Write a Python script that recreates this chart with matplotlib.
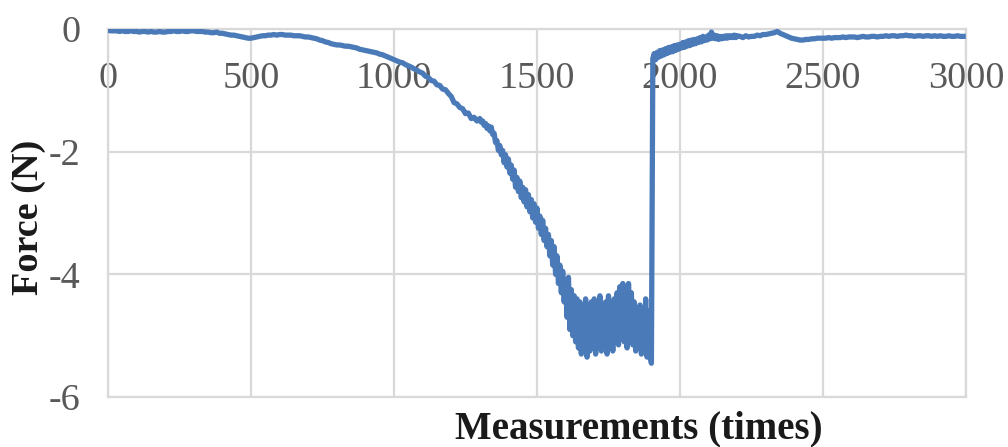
import numpy as np
import matplotlib
matplotlib.use("Agg")
import matplotlib.pyplot as plt

plt.rcParams["font.family"] = ["Liberation Serif", "DejaVu Serif"]

# force readings (N) every 10 measurements, 0 .. 1290
force_early = [
    -0.02, -0.03, -0.03, -0.03, -0.04, -0.03, -0.04, -0.04, -0.03, -0.04,
    -0.04, -0.05, -0.04, -0.04, -0.05, -0.04, -0.05, -0.05, -0.04, -0.05,
    -0.05, -0.04, -0.04, -0.03, -0.04, -0.04, -0.03, -0.04, -0.04, -0.03,
    -0.03, -0.04, -0.04, -0.04, -0.05, -0.05, -0.06, -0.06, -0.05, -0.07,
    -0.07, -0.08, -0.09, -0.10, -0.10, -0.11, -0.12, -0.13, -0.14, -0.15,
    -0.15, -0.14, -0.13, -0.12, -0.11, -0.11, -0.10, -0.10, -0.09, -0.10,
    -0.09, -0.09, -0.10, -0.10, -0.10, -0.11, -0.11, -0.11, -0.12, -0.13,
    -0.13, -0.14, -0.15, -0.16, -0.18, -0.19, -0.21, -0.22, -0.24, -0.25,
    -0.26, -0.26, -0.27, -0.28, -0.28, -0.29, -0.30, -0.31, -0.33, -0.34,
    -0.35, -0.36, -0.37, -0.38, -0.39, -0.41, -0.42, -0.44, -0.46, -0.48,
    -0.50, -0.52, -0.54, -0.55, -0.58, -0.60, -0.62, -0.65, -0.67, -0.70,
    -0.72, -0.77, -0.79, -0.84, -0.85, -0.91, -0.92, -0.98, -0.99, -1.05,
    -1.10, -1.20, -1.22, -1.28, -1.30, -1.38, -1.37, -1.46, -1.44, -1.50,
]

# every 5 measurements, 1300 .. 1900 (noisy loading phase)
force_peak = [
    -1.46, -1.52, -1.50, -1.57, -1.54, -1.62, -1.58, -1.66, -1.60, -1.72,
    -1.70, -1.85, -1.82, -1.98, -1.90, -2.05, -1.98, -2.18, -2.05, -2.25,
    -2.12, -2.35, -2.22, -2.45, -2.30, -2.58, -2.42, -2.65, -2.48, -2.75,
    -2.58, -2.82, -2.62, -2.90, -2.70, -2.98, -2.78, -3.08, -2.85, -3.15,
    -2.92, -3.25, -3.05, -3.35, -3.12, -3.45, -3.25, -3.55, -3.35, -3.70,
    -3.45, -3.85, -3.55, -4.00, -3.70, -4.15, -3.85, -4.30, -3.95, -4.45,
    -4.10, -4.70, -4.05, -4.90, -4.25, -5.00, -4.35, -5.10, -4.40, -5.20,
    -4.45, -5.30, -4.50, -5.15, -4.40, -5.35, -4.55, -5.25, -4.45, -5.10,
    -4.40, -5.30, -4.50, -5.20, -4.35, -5.25, -4.60, -5.10, -4.45, -5.30,
    -4.35, -5.15, -4.55, -5.25, -4.40, -5.05, -4.30, -5.15, -4.20, -5.00,
    -4.15, -5.10, -4.25, -5.20, -4.15, -4.95, -4.30, -5.15, -4.45, -5.25,
    -4.60, -5.20, -4.50, -5.30, -4.65, -5.25, -4.40, -5.35, -4.60, -5.30,
    -5.45,
]

# every 5 measurements after release, 1905 .. 2200
force_release = [
    -0.48, -0.40, -0.50, -0.38, -0.46, -0.35, -0.44, -0.34, -0.42, -0.32,
    -0.40, -0.30, -0.38, -0.29, -0.37, -0.27, -0.35, -0.26, -0.33, -0.25,
    -0.31, -0.22, -0.30, -0.21, -0.28, -0.19, -0.27, -0.18, -0.25, -0.17,
    -0.24, -0.16, -0.22, -0.14, -0.21, -0.12, -0.19, -0.13, -0.18, -0.10,
    -0.16, -0.05, -0.15, -0.10, -0.16, -0.11, -0.17, -0.12, -0.16, -0.12,
    -0.15, -0.11, -0.15, -0.11, -0.14, -0.11, -0.14, -0.10, -0.14, -0.11,
]

# every 10 measurements, 2210 .. 2990
force_tail = [
    -0.12, -0.14, -0.11, -0.13, -0.12, -0.12, -0.10, -0.11, -0.09,
    -0.09, -0.08, -0.07, -0.06, -0.04, -0.07, -0.09, -0.11, -0.13, -0.15,
    -0.16, -0.17, -0.18, -0.18, -0.17, -0.17, -0.16, -0.16, -0.15, -0.15,
    -0.15, -0.15, -0.14, -0.15, -0.14, -0.14, -0.14, -0.13, -0.14, -0.13,
    -0.13, -0.13, -0.14, -0.13, -0.12, -0.13, -0.13, -0.12, -0.12, -0.13,
    -0.12, -0.12, -0.11, -0.12, -0.11, -0.11, -0.12, -0.11, -0.11, -0.10,
    -0.11, -0.11, -0.12, -0.11, -0.11, -0.12, -0.11, -0.11, -0.12, -0.11,
    -0.12, -0.11, -0.12, -0.12, -0.11, -0.12, -0.12, -0.11, -0.12, -0.12,
]

x_ticks = [0, 500, 1000, 1500, 2000, 2500, 3000]
y_ticks = [0, -2, -4, -6]


def main():
    meas = np.concatenate([
        np.arange(0, 1291, 10),
        np.arange(1300, 1901, 5),
        np.arange(1905, 2201, 5),
        np.arange(2210, 2991, 10),
    ])
    force = np.array(force_early + force_peak + force_release + force_tail)

    grid_c = "#d9d9d9"
    text_c = "#595959"

    fig = plt.figure(figsize=(10.08, 4.47), dpi=100)
    ax = fig.add_axes([108 / 1008, 1 - 397 / 447, 858 / 1008, 368 / 447])

    ax.plot(meas, force, color="#4a7ab8", lw=3.8, zorder=3)

    ax.set_xlim(0, 3000)
    ax.set_ylim(-6, 0)
    ax.set_xticks(x_ticks)
    ax.set_yticks(y_ticks)
    ax.set_xticklabels([])
    ax.set_yticklabels([str(v) for v in y_ticks])
    ax.tick_params(axis="both", length=0)
    ax.tick_params(axis="y", pad=20, labelsize=27.5, labelcolor=text_c)
    ax.grid(True, color=grid_c, lw=1.6, zorder=0)
    for sp in ax.spines.values():
        sp.set_color(grid_c)
        sp.set_linewidth(1.6)

    # x tick labels sit inside the plot, just under the zero line
    for t in x_ticks:
        ax.text(t, 0.8397, str(t), transform=ax.get_xaxis_transform(),
                ha="center", va="baseline", fontsize=27.5, color=text_c,
                zorder=2)

    ax.set_xlabel("Measurements (times)", fontsize=28, fontweight="bold",
                  color="#1a1a1a")
    ax.xaxis.set_label_coords(0.619, -0.1114)
    ax.xaxis.label.set_va("baseline")
    ax.set_ylabel("Force (N)", fontsize=27.5, fontweight="bold",
                  color="#1a1a1a")
    ax.yaxis.set_label_coords(-0.0932, 0.489)
    ax.yaxis.label.set_va("center")

    plt.savefig("out.png", dpi=100)
    plt.close()


if __name__ == "__main__":
    main()
